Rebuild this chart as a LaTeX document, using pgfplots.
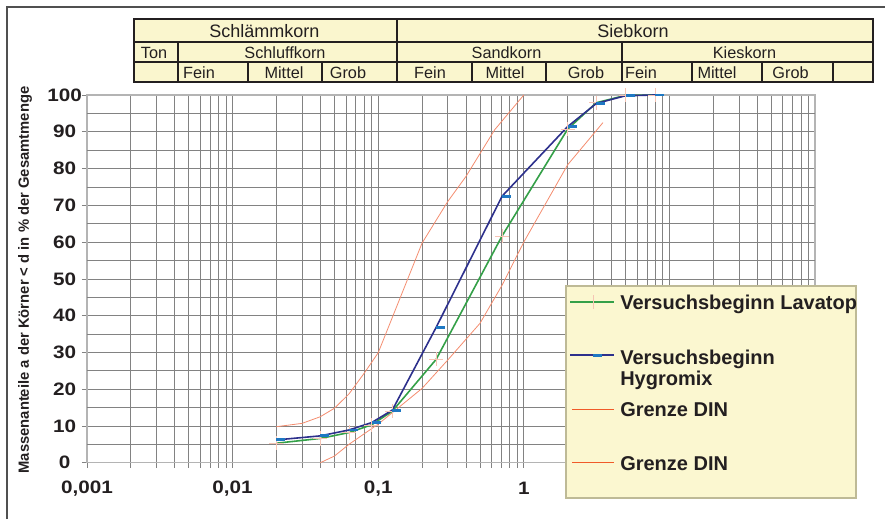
\documentclass[border=0pt]{standalone}
\usepackage{fontspec}
\setmainfont{Liberation Sans}
\newfontfamily\tickfont[FakeStretch=1.15]{Liberation Sans}
\usepackage{pgfplots}
\pgfplotsset{compat=1.18}

\definecolor{tblfill}{RGB}{250,246,206}
\definecolor{tblline}{RGB}{35,31,32}
\definecolor{legfill}{RGB}{251,247,208}
\definecolor{legline}{RGB}{190,186,150}
\definecolor{cgreen}{RGB}{52,160,72}
\definecolor{cblue}{RGB}{45,48,140}
\definecolor{cmark}{RGB}{30,120,195}
\definecolor{cred}{RGB}{240,90,40}
\definecolor{credl}{RGB}{244,140,110}
\definecolor{cplus}{RGB}{246,196,180}
\definecolor{gridc}{RGB}{130,130,130}
\definecolor{txt}{RGB}{35,31,32}
\definecolor{framec}{RGB}{80,80,80}

\pgfdeclareplotmark{rdash}{\pgfpathrectangle{\pgfpoint{0pt}{-1.1pt}}{\pgfpoint{6.75pt}{2.2pt}}\pgfusepathqfill}

\begin{document}
\begin{tikzpicture}
\begin{axis}[
  at={(65.25pt,-347.03pt)}, anchor=south west,
  scale only axis, width=546pt, height=275.8pt,
  xmode=log, log basis x=10,
  xmin=0.001, xmax=100, ymin=0, ymax=100,
  xtick={0.001,0.01,0.1,1,10,100},
  xticklabels={{0,001},{0,01},{0,1},1,10,100},
  minor xtick={0.002,0.003,0.004,0.005,0.006,0.007,0.008,0.009,
               0.02,0.03,0.04,0.05,0.06,0.07,0.08,0.09,
               0.2,0.3,0.4,0.5,0.6,0.7,0.8,0.9,
               2,3,4,5,6,7,8,9,
               20,30,40,50,60,70,80,90},
  ytick={0,10,...,100},
  extra y ticks={5,15,...,95}, extra y tick labels={},
  extra y tick style={grid=major, major tick length=0pt},
  grid=both,
  major grid style={gridc, line width=0.5pt},
  minor grid style={gridc, line width=0.5pt},
  tick align=outside, tick pos=left,
  major tick length=3.75pt, minor tick length=3.75pt,
  tick style={gridc, line width=0.5pt},
  axis line style={gridc!60, line width=0.8pt},
  /pgf/number format/assume math mode=true,
  yticklabel style={font=\tickfont\bfseries\fontsize{13.5}{14}\selectfont, text=txt, anchor=center, xshift=-13pt},
  xticklabel style={font=\tickfont\bfseries\fontsize{13.5}{14}\selectfont, text=txt, anchor=center, yshift=-15.5pt},
]
% Grenze DIN (oben)
\addplot[credl, line width=0.6pt, mark=none] coordinates {
 (0.02,9.8)(0.03,10.7)(0.04,12.5)(0.05,14.8)(0.063,18.7)(0.08,24.3)(0.1,29.9)
 (0.2,59.7)(0.3,71)(0.4,77.8)(0.63,90.5)(1,100)};
% Grenze DIN (unten)
\addplot[credl, line width=0.6pt, mark=none] coordinates {
 (0.04,0)(0.05,1.8)(0.063,5)(0.1,10.5)(0.125,13.6)(0.2,20.2)(0.3,27.9)
 (0.5,37.9)(0.71,48.3)(1,60)(2,81)(3.5,92.5)};
% Versuchsbeginn Lavatop
\addplot[cgreen, line width=1.2pt, mark=+, mark size=5.3pt,
  mark options={cplus, line width=0.4pt, solid}] coordinates {
 (0.02,5.3)(0.04,6.6)(0.063,8.2)(0.09,10.3)(0.125,14.0)(0.25,28.1)
 (0.71,61.7)(2,90.7)(3.15,97.9)(5,99.9)(8,100)};
% Versuchsbeginn Hygromix
\addplot[cblue, line width=1.2pt, mark=rdash,
  mark options={cmark, fill=cmark, draw=none}] coordinates {
 (0.02,6.2)(0.04,7.3)(0.063,8.9)(0.09,10.9)(0.125,14.3)(0.25,36.8)
 (0.71,72.5)(2,91.4)(3.15,97.7)(5,99.8)(8,100)};
\end{axis}

\begin{scope}[x=0.75pt, y=-0.75pt]
  % outer frame
  \draw[framec, line width=1.1pt] (7,519) -- (7,7) -- (885,7);
  % header table
  \fill[tblfill] (134,19) rectangle (873,81.7);
  \begin{scope}[draw=tblline, line width=1.5pt]
    \draw (134,19) rectangle (873,81.7);
    \draw (134,41.7) -- (873,41.7);
    \draw (134,61.7) -- (873,61.7);
    \draw (397,19) -- (397,81.7);
    \draw (178,41.7) -- (178,81.7);
    \draw (622,41.7) -- (622,81.7);
    \foreach \xx in {248,322,472,546,692,762,833} \draw (\xx,61.7) -- (\xx,81.7);
  \end{scope}
  \begin{scope}[every node/.style={anchor=base, text=txt, inner sep=0pt}]
    \node[font=\fontsize{13.5}{14}\selectfont] at (264.3,37.7) {Schlämmkorn};
    \node[font=\fontsize{13.5}{14}\selectfont] at (633,37.7) {Siebkorn};
    \node[font=\fontsize{12.2}{13}\selectfont] at (154,58.3) {Ton};
    \node[font=\fontsize{12.2}{13}\selectfont] at (285,58.3) {Schluffkorn};
    \node[font=\fontsize{12.2}{13}\selectfont] at (506.5,58.3) {Sandkorn};
    \node[font=\fontsize{12.2}{13}\selectfont] at (744.5,58.3) {Kieskorn};
    \node[font=\fontsize{12.2}{13}\selectfont] at (199,78.3) {Fein};
    \node[font=\fontsize{12.2}{13}\selectfont] at (284,78.3) {Mittel};
    \node[font=\fontsize{12.2}{13}\selectfont] at (348,78.3) {Grob};
    \node[font=\fontsize{12.2}{13}\selectfont] at (430,78.3) {Fein};
    \node[font=\fontsize{12.2}{13}\selectfont] at (505,78.3) {Mittel};
    \node[font=\fontsize{12.2}{13}\selectfont] at (586,78.3) {Grob};
    \node[font=\fontsize{12.2}{13}\selectfont] at (641,78.3) {Fein};
    \node[font=\fontsize{12.2}{13}\selectfont] at (717,78.3) {Mittel};
    \node[font=\fontsize{12.2}{13}\selectfont] at (790.5,78.3) {Grob};
  \end{scope}
  % y label
  \node[rotate=90, font=\bfseries\fontsize{11.1}{12}\selectfont, text=txt] at (25,280)
    {Massenanteile a der Körner < d in \% der Gesamtmenge};
  % legend
  \fill[legfill] (566,286) rectangle (856,498);
  \draw[legline, line width=1.3pt] (566,286) rectangle (856,498);
  \draw[cgreen, line width=1.2pt] (570,302) -- (614,302);
  \draw[cplus, line width=0.4pt] (593,295) -- (593,309);
  \draw[cblue, line width=1.2pt] (570,355) -- (614,355);
  \fill[cmark] (593,353.5) rectangle (602,356.5);
  \draw[cred, line width=0.7pt] (572,409) -- (614,409);
  \draw[cred, line width=0.7pt] (572,462.6) -- (614,462.6);
  \begin{scope}[every node/.style={anchor=base west, text=txt, inner sep=0pt, font=\bfseries\fontsize{15}{16}\selectfont}]
    \node at (620,309) {Versuchsbeginn Lavatop};
    \node at (620,364) {Versuchsbeginn};
    \node at (620,385) {Hygromix};
    \node at (620,416) {Grenze DIN};
    \node at (620,470) {Grenze DIN};
  \end{scope}
  \pgfresetboundingbox
  \path[use as bounding box] (0,0) rectangle (885,519);
\end{scope}
\end{tikzpicture}
\end{document}
